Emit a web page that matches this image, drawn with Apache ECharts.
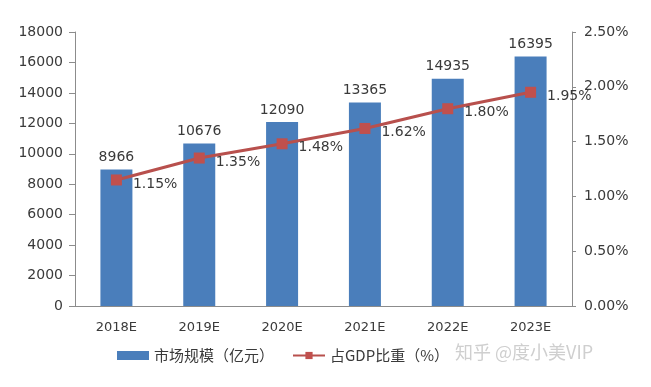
<!DOCTYPE html>
<html><head><meta charset="utf-8">
<script src="https://cdn.jsdelivr.net/npm/echarts@6/dist/echarts.min.js"></script>
<style>html,body{margin:0;padding:0;background:#fff}#c{width:651px;height:387px}</style>
</head><body><div id="c"></div>
<script>
const categories = ['2018E','2019E','2020E','2021E','2022E','2023E'];
const marketSize = [8966,10676,12090,13365,14935,16395];
const gdpShare = [1.15,1.35,1.48,1.62,1.80,1.95];
const leftTicks = {min:0,max:18000,interval:2000};
const rightTicks = {min:0,max:2.5,interval:0.5};

const chart = echarts.init(document.getElementById('c'));
const font = 'DejaVu Sans, Noto Sans CJK SC, sans-serif';
const axisGray = '#8c8c8c';
const txt = '#3a3a3a';
chart.setOption({
  animation:false,
  textStyle:{fontFamily:font},
  grid:{left:75,right:79,top:32,bottom:81},
  legend:{
    bottom:19,left:112,itemGap:18,itemWidth:32,itemHeight:9,
    textStyle:{fontSize:15,color:txt,fontFamily:'Noto Sans CJK SC, sans-serif'},
    data:[{name:'市场规模（亿元）',icon:'rect'},{name:'占GDP比重（%）'}]
  },
  graphic:[{type:'text',left:455,top:343,style:{text:'知乎 @度小美VIP',fill:'#cfcfcf',font:'18px Noto Sans CJK SC, sans-serif'}}],
  xAxis:{
    type:'category',data:categories,
    axisLine:{lineStyle:{color:axisGray}},
    axisTick:{alignWithLabel:false,length:6,lineStyle:{color:axisGray}},
    axisLabel:{color:txt,fontSize:13,margin:15}
  },
  yAxis:[{
    type:'value',min:leftTicks.min,max:leftTicks.max,interval:leftTicks.interval,
    axisLine:{show:true,lineStyle:{color:axisGray}},
    axisTick:{show:true,length:6,lineStyle:{color:axisGray}},
    splitLine:{show:false},
    axisLabel:{color:txt,fontSize:14,margin:12,formatter:v=>String(v)}
  },{
    type:'value',min:rightTicks.min,max:rightTicks.max,interval:rightTicks.interval,
    position:'right',
    axisLine:{show:true,lineStyle:{color:axisGray}},
    axisTick:{show:true,length:4,lineStyle:{color:axisGray}},
    splitLine:{show:false},
    axisLabel:{color:txt,fontSize:14,margin:12,formatter:v=>v.toFixed(2)+'%'}
  }],
  series:[{
    name:'市场规模（亿元）',type:'bar',data:marketSize,barWidth:32,
    itemStyle:{color:'#4a7ebb'},
    label:{show:true,position:'top',color:txt,fontSize:14,distance:5}
  },{
    name:'占GDP比重（%）',type:'line',yAxisIndex:1,data:gdpShare,
    symbol:'rect',symbolSize:11,
    lineStyle:{color:'#b8504d',width:3},
    itemStyle:{color:'#c0504d'},
    label:{show:true,position:'right',offset:[6,4],color:txt,fontSize:14,formatter:p=>p.value.toFixed(2)+'%'}
  }]
});
</script></body></html>
